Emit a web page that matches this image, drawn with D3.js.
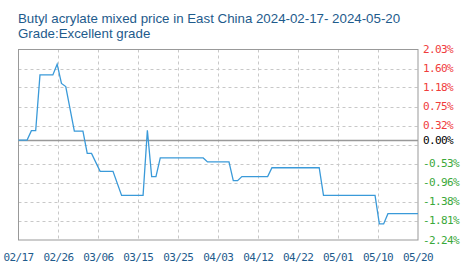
<!DOCTYPE html>
<html>
<head>
<meta charset="utf-8">
<script src="https://cdn.jsdelivr.net/npm/d3@7"></script>
<style>
  body { margin: 0; background: #fff; }
  svg { display: block; }
</style>
</head>
<body>
<div id="chart"></div>
<script>
// Datas (pontos de mudança da linha) e valores em %
const dates = ['2024-02-17', '2024-02-19', '2024-02-20', '2024-02-21', '2024-02-22', '2024-02-25',
  '2024-02-26', '2024-02-27', '2024-02-28', '2024-03-01', '2024-03-03', '2024-03-04', '2024-03-05',
  '2024-03-07', '2024-03-10', '2024-03-12', '2024-03-17', '2024-03-18', '2024-03-19', '2024-03-20',
  '2024-03-21', '2024-03-31', '2024-04-01', '2024-04-06', '2024-04-07', '2024-04-08', '2024-04-09',
  '2024-04-15', '2024-04-16', '2024-04-27', '2024-04-28', '2024-05-10', '2024-05-11', '2024-05-12',
  '2024-05-13', '2024-05-20'];
const values = [0, 0, 0.21, 0.21, 1.46, 1.46,
  1.70, 1.27, 1.20, 0.20, 0.20, -0.30, -0.30,
  -0.70, -0.70, -1.24, -1.24, 0.22, -0.82, -0.82,
  -0.40, -0.40, -0.49, -0.49, -0.91, -0.91, -0.82,
  -0.82, -0.62, -0.62, -1.24, -1.24, -1.88, -1.88,
  -1.65, -1.65];

// Rótulos dos eixos
const xTickLabels = ['02/17', '02/26', '03/06', '03/15', '03/25', '04/03', '04/12', '04/22', '05/01', '05/10', '05/20'];
const yTicks = [2.03, 1.60, 1.18, 0.75, 0.32, -0.105, -0.53, -0.96, -1.38, -1.81, -2.24];

const W = 468, H = 269;
const margin = { top: 49.5, right: 50, bottom: 29, left: 18.5 };
const x0 = margin.left, x1 = W - margin.right, y0 = margin.top, y1 = H - margin.bottom;

const svg = d3.select('#chart').append('svg')
  .attr('width', W)
  .attr('height', H);

const parse = d3.timeParse('%Y-%m-%d');
const data = dates.map((d, i) => ({ date: parse(d), v: values[i] }));

const x = d3.scaleTime()
  .domain([parse('2024-02-17'), parse('2024-05-20')])
  .range([x0, x1]);
const xPos = d3.scaleLinear().domain([0, xTickLabels.length - 1]).range([x0, x1]);
const y = d3.scaleLinear().domain([-2.24, 2.03]).range([y1, y0]);

// Título
svg.append('text')
  .attr('x', 18).attr('y', 23)
  .attr('fill', '#1e5b8c')
  .style('font-family', 'Liberation Sans, Arial, sans-serif')
  .style('font-size', '13.3px')
  .text('Butyl acrylate mixed price in East China 2024-02-17- 2024-05-20');
svg.append('text')
  .attr('x', 18).attr('y', 38)
  .attr('fill', '#1e5b8c')
  .style('font-family', 'Liberation Sans, Arial, sans-serif')
  .style('font-size', '13.3px')
  .text('Grade:Excellent grade');

// Grade
svg.append('g')
  .selectAll('line')
  .data(yTicks.slice(1, -1))
  .enter().append('line')
  .attr('x1', x0).attr('x2', x1)
  .attr('y1', d => Math.round(y(d)) + 0.5).attr('y2', d => Math.round(y(d)) + 0.5)
  .attr('stroke', '#c8c8c8')
  .attr('stroke-dasharray', '3,3');

svg.append('g')
  .selectAll('line')
  .data(xTickLabels.slice(1, -1))
  .enter().append('line')
  .attr('x1', (d, i) => Math.round(xPos(i + 1)) + 0.5).attr('x2', (d, i) => Math.round(xPos(i + 1)) + 0.5)
  .attr('y1', y0).attr('y2', y1)
  .attr('stroke', '#c8c8c8')
  .attr('stroke-dasharray', '3,3');

// Moldura
svg.append('rect')
  .attr('x', x0).attr('y', y0)
  .attr('width', x1 - x0).attr('height', y1 - y0)
  .attr('fill', 'none')
  .attr('stroke', '#999999');

// Linha do zero
svg.append('line')
  .attr('x1', x0).attr('x2', x1)
  .attr('y1', Math.round(y(0)) + 0.5).attr('y2', Math.round(y(0)) + 0.5)
  .attr('stroke', '#999999')
  .attr('stroke-width', 1.5);

// Linha de preço
const line = d3.line()
  .x(d => x(d.date))
  .y(d => y(d.v));

svg.append('path')
  .datum(data)
  .attr('d', line)
  .attr('fill', 'none')
  .attr('stroke', '#3a9ad9')
  .attr('stroke-width', 1.3);

// Rótulos do eixo Y
const fmt = d => d.toFixed(2) + '%';
const yLabels = yTicks.filter(d => d !== -0.105).concat([0]);
svg.append('g')
  .selectAll('text')
  .data(yLabels)
  .enter().append('text')
  .attr('x', 423)
  .attr('y', d => y(d) + 3.5)
  .attr('fill', d => d > 0 ? '#f03c3c' : d < 0 ? '#3aa83a' : '#000000')
  .style('font-family', 'DejaVu Sans Mono, monospace')
  .style('font-size', '11px')
  .style('letter-spacing', '-0.6px')
  .text(fmt);

// Rótulos do eixo X
svg.append('g')
  .selectAll('text')
  .data(xTickLabels)
  .enter().append('text')
  .attr('x', (d, i) => xPos(i))
  .attr('y', 260.5)
  .attr('text-anchor', 'middle')
  .attr('fill', '#1e5b8c')
  .style('font-family', 'DejaVu Sans Mono, monospace')
  .style('font-size', '11px')
  .style('letter-spacing', '-0.6px')
  .text(d => d);
</script>
</body>
</html>
